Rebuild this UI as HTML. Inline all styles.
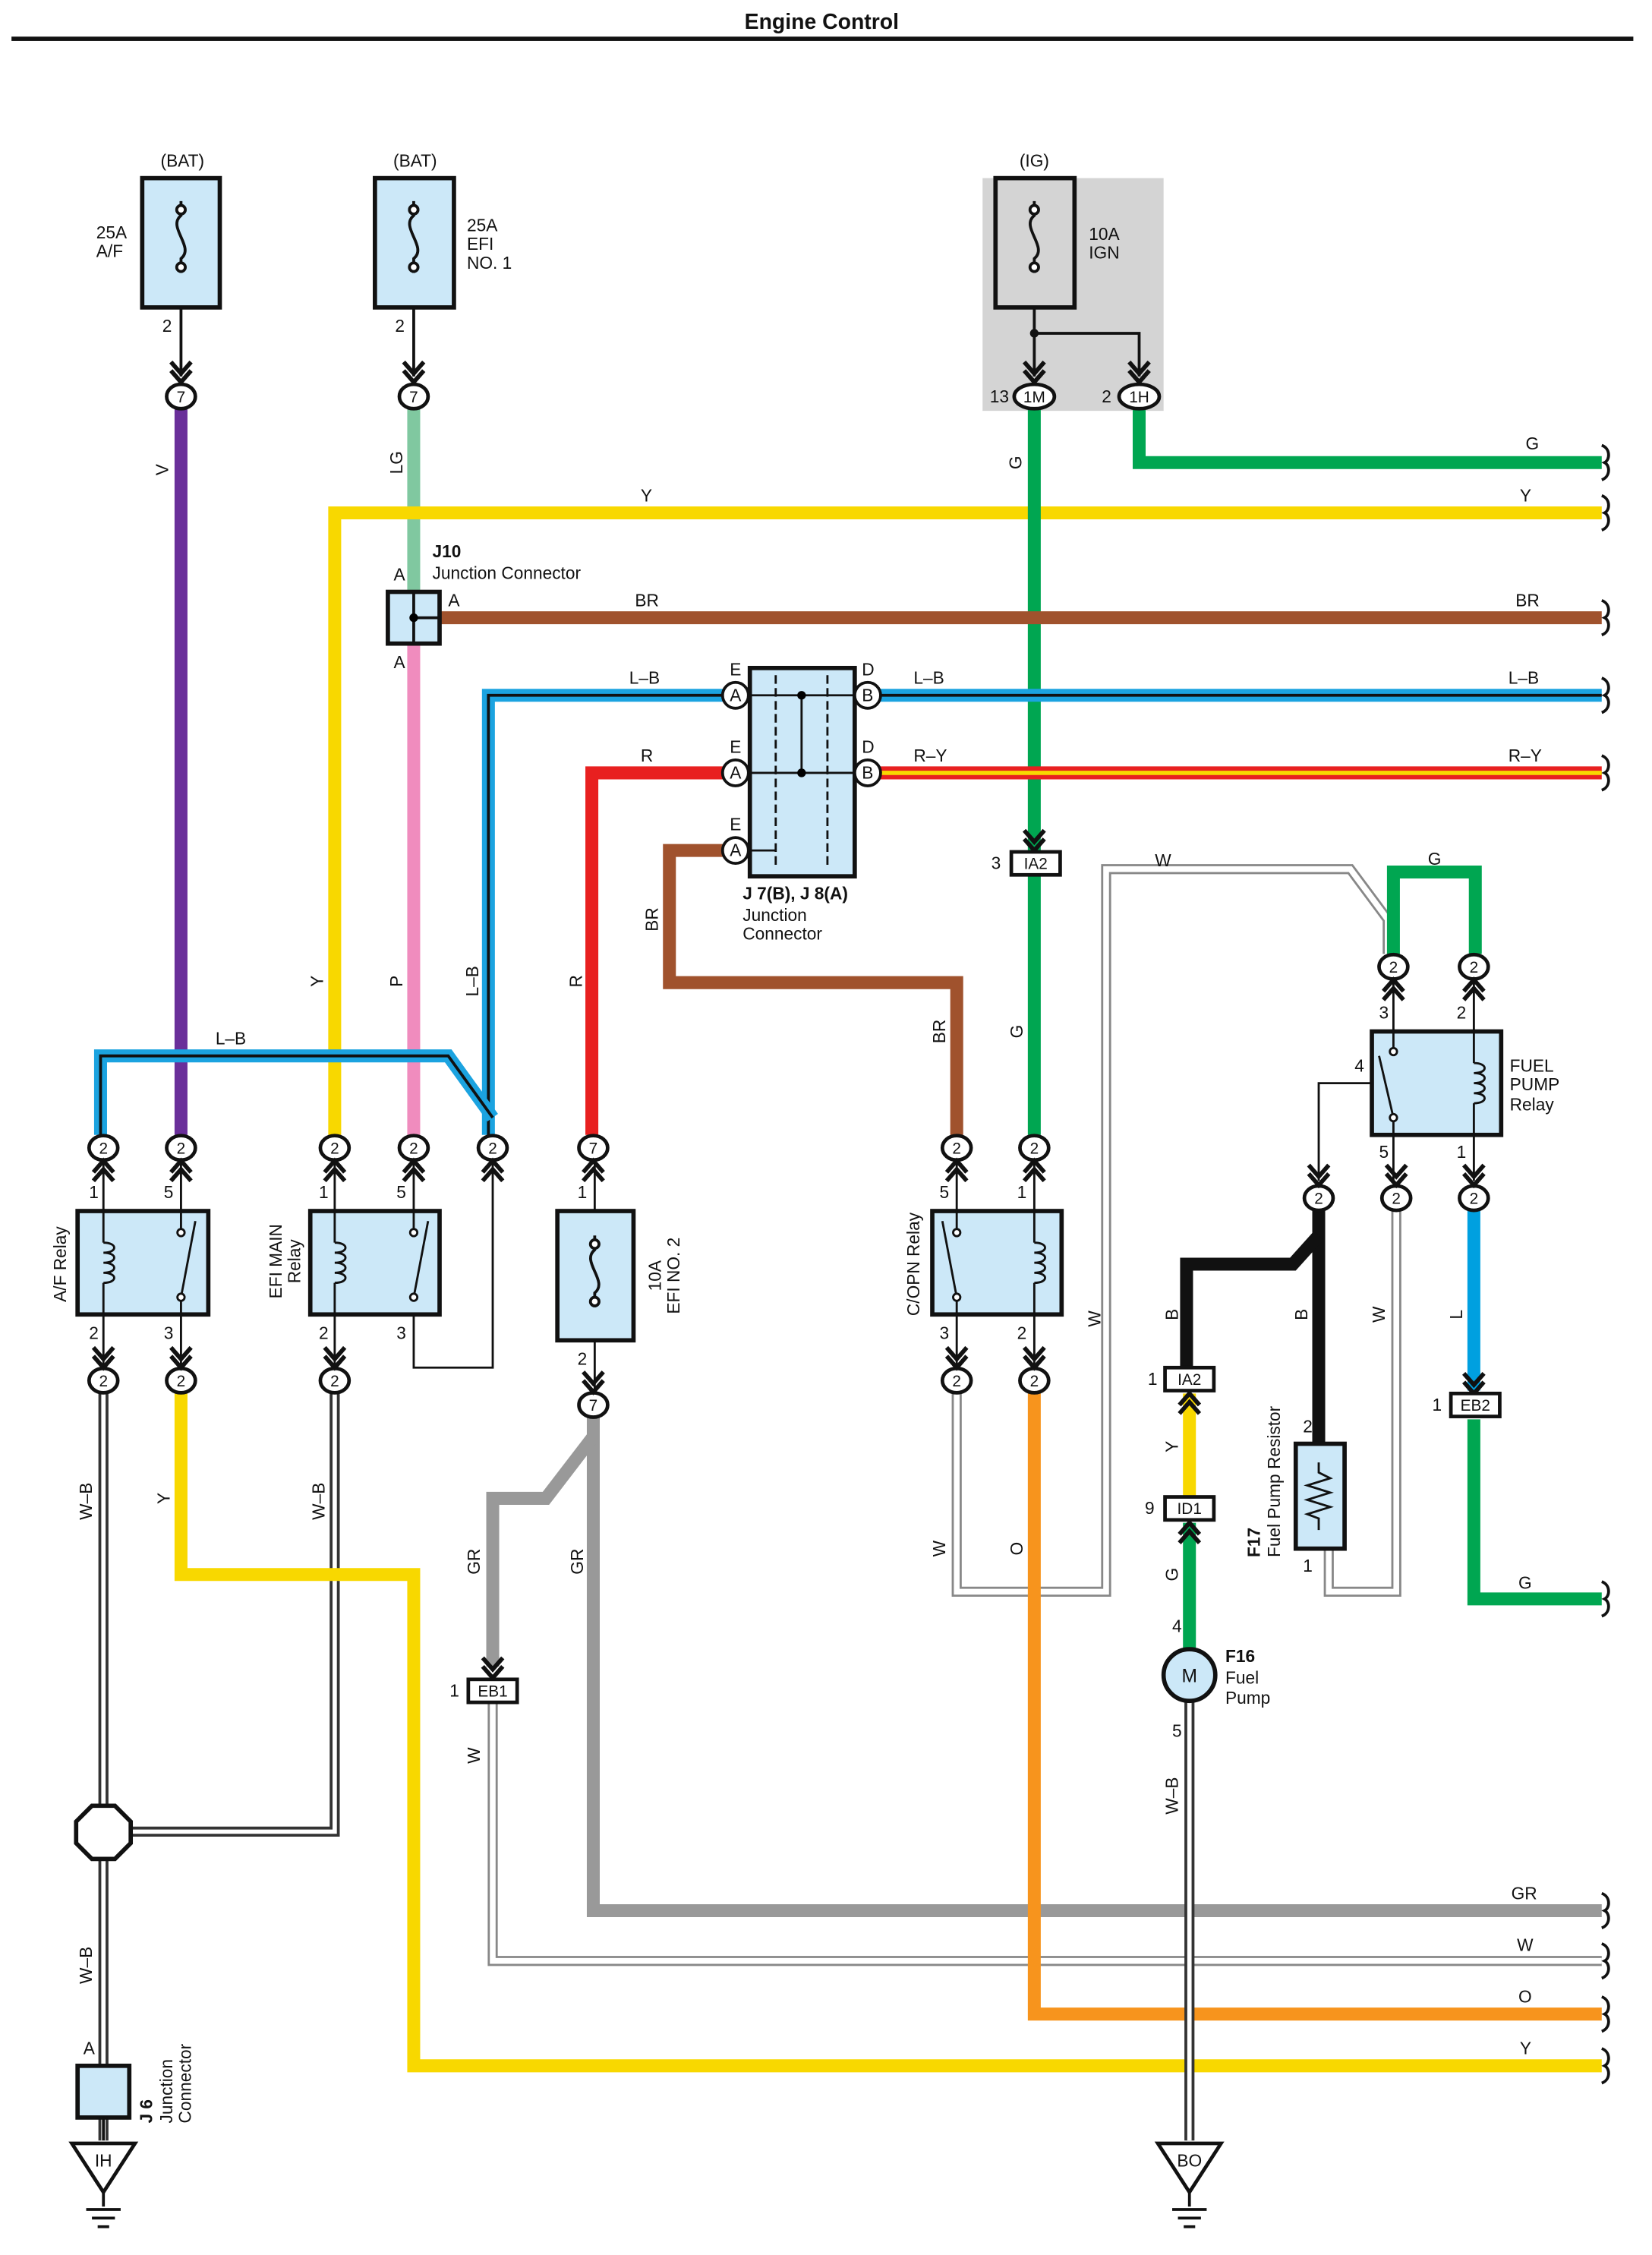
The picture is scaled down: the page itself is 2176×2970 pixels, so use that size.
<!DOCTYPE html>
<html><head><meta charset="utf-8"><style>
html,body{margin:0;padding:0;background:#fff}
svg{display:block}
text{font-family:"Liberation Sans",sans-serif;font-size:12px;fill:#111}
.c text{font-size:11px}
</style></head><body>
<svg width="2176" height="2970" viewBox="0 0 1150 1569.7" preserveAspectRatio="none" xmlns="http://www.w3.org/2000/svg">
<defs>
<g id="conn"><ellipse cx="0" cy="0" rx="10" ry="8.5" fill="#fff" stroke="#111" stroke-width="2.5"/></g>
<g id="chev"><path d="M-7,-12 L0,-4 L7,-12 M-7,-6 L0,2 L7,-6" fill="none" stroke="#111" stroke-width="3"/></g>
<g id="chevU"><path d="M-7,12 L0,4 L7,12 M-7,6 L0,-2 L7,6" fill="none" stroke="#111" stroke-width="3"/></g>
<g id="sq"><path d="M0,-12 C6,-10 6,-2 2,0 C6,2 6,10 0,12" fill="none" stroke="#111" stroke-width="2"/></g>
</defs>
<text x="572" y="20" text-anchor="middle" style="font-size:15px;font-weight:bold">Engine Control</text>
<rect x="8" y="25.5" width="1129" height="3" fill="#111"/>

<!-- IG grey bg -->
<rect x="684" y="124" width="126" height="162" fill="#d4d4d4"/>

<!-- WIRES -->
<g fill="none" stroke-linejoin="miter">
<!-- purple V -->
<path d="M126,285 V790" stroke="#6a2f9a" stroke-width="9"/>
<!-- LG -->
<path d="M288,285 V412" stroke="#80c8a0" stroke-width="9"/>
<path d="M288,448 V790" stroke="#f08cbe" stroke-width="9"/>
<!-- Y top -->
<path d="M1115,357 H233 V790" stroke="#f8d800" stroke-width="9"/>
<!-- G top -->
<path d="M793,285 V322 H1115" stroke="#00a651" stroke-width="9"/>
<path d="M720,285 V593 M720,610 V790" stroke="#00a651" stroke-width="9"/>
<!-- BR -->
<path d="M306,430 H1115" stroke="#a0522d" stroke-width="9"/>
<path d="M504,592 H466 V684 H666 V790" stroke="#a0522d" stroke-width="9"/>
<!-- L-B -->
<path d="M1115,484 H612 M504,484 H340 V790" stroke="#1ba3e0" stroke-width="9"/>
<path d="M1115,484 H612 M504,484 H340 V790" stroke="#111" stroke-width="2"/>
<path d="M343,778 L312,735 H70 V790" stroke="#1ba3e0" stroke-width="9"/>
<path d="M343,778 L312,735 H70 V790" stroke="#111" stroke-width="2"/>
<!-- R-Y -->
<path d="M612,538 H1115" stroke="#e82020" stroke-width="9"/>
<path d="M612,538 H1115" stroke="#f8d800" stroke-width="3"/>
<!-- R -->
<path d="M504,538 H412 V790" stroke="#e82020" stroke-width="9"/>
<!-- W big loop -->
<path d="M666,970 V1108 H770 V605 H940 L966,640 V664" stroke="#888" stroke-width="7"/>
<path d="M666,970 V1108 H770 V605 H940 L966,640 V664" stroke="#fff" stroke-width="4"/>
<!-- G relay top -->
<path d="M970,664 V607 H1027 V664" stroke="#00a651" stroke-width="9"/>
<!-- W-B left -->
<path d="M72,970 V1490 M233,970 V1275 H80" stroke="#333" stroke-width="7"/>
<path d="M72,970 V1490 M233,970 V1275 H80" stroke="#fff" stroke-width="3"/>
<!-- Y lower -->
<path d="M126,970 V1096 H288 V1438 H1115" stroke="#f8d800" stroke-width="9"/>
<!-- GR -->
<path d="M413,985 V1330 H1115" stroke="#999" stroke-width="9"/>
<path d="M413,1000 L380,1043 H343 V1160" stroke="#999" stroke-width="9"/>
<!-- W lower -->
<path d="M343,1186 V1365 H1115" stroke="#888" stroke-width="7"/>
<path d="M343,1186 V1365 H1115" stroke="#fff" stroke-width="4"/>
<!-- O -->
<path d="M720,970 V1402 H1115" stroke="#f7941d" stroke-width="9"/>
<!-- B black -->
<path d="M918,843 V1005" stroke="#111" stroke-width="9"/>
<path d="M918,860 L900,880 H826 V952" stroke="#111" stroke-width="9"/>
<!-- Y ID -->
<path d="M828,970 V1042" stroke="#f8d800" stroke-width="9"/>
<path d="M828,1060 V1148" stroke="#00a651" stroke-width="9"/>
<path d="M828,1184 V1490" stroke="#333" stroke-width="7"/>
<path d="M828,1184 V1490" stroke="#fff" stroke-width="3"/>
<!-- W resistor -->
<path d="M972,843 V1108 H925 V1078" stroke="#888" stroke-width="7"/>
<path d="M972,843 V1108 H925 V1078" stroke="#fff" stroke-width="4"/>
<!-- L -->
<path d="M1026,843 V968" stroke="#00a0e0" stroke-width="9"/>
<path d="M1026,988 V1113 H1115" stroke="#00a651" stroke-width="9"/>
<!-- thin black -->
<path d="M126,214 V262 M288,214 V262 M720,214 V262 M720,232 H793 V262" stroke="#111" stroke-width="2"/>
<path d="M288,905 V952 H343 V808" stroke="#111" stroke-width="1.5"/>
<path d="M955,754 H918 V822" stroke="#111" stroke-width="1.5"/>
</g>
<circle cx="720" cy="232" r="3" fill="#111"/>

<!-- squiggles -->
<use href="#sq" x="1115" y="322"/><use href="#sq" x="1115" y="357"/><use href="#sq" x="1115" y="430"/>
<use href="#sq" x="1115" y="484"/><use href="#sq" x="1115" y="538"/><use href="#sq" x="1115" y="1113"/>
<use href="#sq" x="1115" y="1330"/><use href="#sq" x="1115" y="1365"/><use href="#sq" x="1115" y="1402"/><use href="#sq" x="1115" y="1438"/>

<!-- fuses top -->
<g stroke="#111" stroke-width="3">
<rect x="99" y="124" width="54" height="90" fill="#cce8f8"/>
<rect x="261" y="124" width="55" height="90" fill="#cce8f8"/>
<rect x="693" y="124" width="55" height="90" fill="#d4d4d4"/>
<rect x="388" y="843" width="53" height="90" fill="#cce8f8"/>
</g>
<g fill="none" stroke="#111" stroke-width="2">
<path d="M126,140 V150 C116,158 136,172 126,180 V190"/><circle cx="126" cy="146" r="3" fill="#fff"/><circle cx="126" cy="186" r="3" fill="#fff"/>
<path d="M288,140 V150 C278,158 298,172 288,180 V190"/><circle cx="288" cy="146" r="3" fill="#fff"/><circle cx="288" cy="186" r="3" fill="#fff"/>
<path d="M720,140 V150 C710,158 730,172 720,180 V190"/><circle cx="720" cy="146" r="3" fill="#fff"/><circle cx="720" cy="186" r="3" fill="#fff"/>
<path d="M414,860 V870 C404,878 424,892 414,900 V910"/><circle cx="414" cy="866" r="3" fill="#fff"/><circle cx="414" cy="906" r="3" fill="#fff"/>
</g>
<text x="127" y="116" text-anchor="middle">(BAT)</text>
<text x="289" y="116" text-anchor="middle">(BAT)</text>
<text x="720" y="116" text-anchor="middle">(IG)</text>
<text x="67" y="166">25A</text><text x="67" y="179">A/F</text>
<text x="325" y="161">25A</text><text x="325" y="174">EFI</text><text x="325" y="187">NO. 1</text>
<text x="758" y="167">10A</text><text x="758" y="180">IGN</text>
<text x="113" y="231">2</text><text x="275" y="231">2</text>
<text x="689" y="280">13</text><text x="767" y="280">2</text>

<!-- J10 -->
<rect x="270" y="412" width="36" height="36" fill="#cce8f8" stroke="#111" stroke-width="3"/>
<path d="M288,412 V448 M288,430 H306" stroke="#111" stroke-width="2"/><circle cx="288" cy="430" r="3"/>
<text x="301" y="388" style="font-weight:bold">J10</text><text x="301" y="403">Junction Connector</text>
<text x="274" y="404">A</text><text x="312" y="422">A</text><text x="274" y="465">A</text>

<!-- J7/J8 -->
<rect x="522" y="465" width="73" height="145" fill="#cce8f8" stroke="#111" stroke-width="3"/>
<g stroke="#111" stroke-width="1.5" fill="none" stroke-dasharray="6,3">
<path d="M540,470 V605 M576,470 V605"/></g>
<path d="M512,484 H604 M512,538 H604 M512,592 H540 M558,484 V538" stroke="#111" stroke-width="1.5"/>
<circle cx="558" cy="484" r="3"/><circle cx="558" cy="538" r="3"/>
<g stroke="#111" stroke-width="2" fill="#fff">
<circle cx="512" cy="484" r="9"/><circle cx="512" cy="538" r="9"/><circle cx="512" cy="592" r="9"/>
<circle cx="604" cy="484" r="9"/><circle cx="604" cy="538" r="9"/>
</g>
<g text-anchor="middle" style="font-size:11px">
<text x="512" y="488">A</text><text x="512" y="542">A</text><text x="512" y="596">A</text>
<text x="604" y="488">B</text><text x="604" y="542">B</text>
</g>
<text x="508" y="470">E</text><text x="508" y="524">E</text><text x="508" y="578">E</text>
<text x="600" y="470">D</text><text x="600" y="524">D</text>
<text x="517" y="626" style="font-weight:bold">J 7(B), J 8(A)</text>
<text x="517" y="641">Junction</text><text x="517" y="654">Connector</text>

<!-- wire labels -->
<text x="117" y="327" transform="rotate(-90 117 327)" text-anchor="middle">V</text>
<text x="280" y="322" transform="rotate(-90 280 322)" text-anchor="middle">LG</text>
<text x="711" y="322" transform="rotate(-90 711 322)" text-anchor="middle">G</text>
<text x="1062" y="313">G</text>
<text x="446" y="349">Y</text><text x="1058" y="349">Y</text>
<text x="442" y="422">BR</text><text x="1055" y="422">BR</text>
<text x="438" y="476">L–B</text><text x="636" y="476">L–B</text><text x="1050" y="476">L–B</text>
<text x="446" y="530">R</text><text x="636" y="530">R–Y</text><text x="1050" y="530">R–Y</text>
<text x="804" y="603">W</text><text x="994" y="602">G</text>
<text x="150" y="727">L–B</text>
<text x="458" y="640" transform="rotate(-90 458 640)" text-anchor="middle">BR</text>
<text x="225" y="683" transform="rotate(-90 225 683)" text-anchor="middle">Y</text>
<text x="280" y="683" transform="rotate(-90 280 683)" text-anchor="middle">P</text>
<text x="333" y="683" transform="rotate(-90 333 683)" text-anchor="middle">L–B</text>
<text x="405" y="683" transform="rotate(-90 405 683)" text-anchor="middle">R</text>
<text x="658" y="718" transform="rotate(-90 658 718)" text-anchor="middle">BR</text>
<text x="712" y="718" transform="rotate(-90 712 718)" text-anchor="middle">G</text>
<text x="64" y="1045" transform="rotate(-90 64 1045)" text-anchor="middle">W–B</text>
<text x="118" y="1043" transform="rotate(-90 118 1043)" text-anchor="middle">Y</text>
<text x="226" y="1045" transform="rotate(-90 226 1045)" text-anchor="middle">W–B</text>
<text x="334" y="1087" transform="rotate(-90 334 1087)" text-anchor="middle">GR</text>
<text x="406" y="1087" transform="rotate(-90 406 1087)" text-anchor="middle">GR</text>
<text x="334" y="1222" transform="rotate(-90 334 1222)" text-anchor="middle">W</text>
<text x="64" y="1368" transform="rotate(-90 64 1368)" text-anchor="middle">W–B</text>
<text x="658" y="1078" transform="rotate(-90 658 1078)" text-anchor="middle">W</text>
<text x="712" y="1078" transform="rotate(-90 712 1078)" text-anchor="middle">O</text>
<text x="766" y="918" transform="rotate(-90 766 918)" text-anchor="middle">W</text>
<text x="820" y="915" transform="rotate(-90 820 915)" text-anchor="middle">B</text>
<text x="910" y="915" transform="rotate(-90 910 915)" text-anchor="middle">B</text>
<text x="964" y="915" transform="rotate(-90 964 915)" text-anchor="middle">W</text>
<text x="1018" y="915" transform="rotate(-90 1018 915)" text-anchor="middle">L</text>
<text x="820" y="1007" transform="rotate(-90 820 1007)" text-anchor="middle">Y</text>
<text x="820" y="1096" transform="rotate(-90 820 1096)" text-anchor="middle">G</text>
<text x="820" y="1250" transform="rotate(-90 820 1250)" text-anchor="middle">W–B</text>
<text x="1057" y="1106">G</text>
<text x="1052" y="1322">GR</text><text x="1056" y="1358">W</text><text x="1057" y="1394">O</text><text x="1058" y="1430">Y</text>

<!-- relays -->
<g stroke="#111" stroke-width="3" fill="#cce8f8">
<rect x="54" y="843" width="91" height="72"/>
<rect x="216" y="843" width="90" height="72"/>
<rect x="649" y="843" width="90" height="72"/>
<rect x="955" y="718" width="90" height="72"/>
</g>
<g fill="none" stroke="#111" stroke-width="1.5">
<!-- A/F -->
<path d="M72,808 V865 M72,893 V952 M126,808 V855 M126,903 V952"/>
<path d="M72,865 c10,0 10,7 0,7 c10,0 10,7 0,7 c10,0 10,7 0,7 c10,0 10,7 0,7"/>
<path d="M126,903 L136,850"/><circle cx="126" cy="858" r="2.5" fill="#fff"/><circle cx="126" cy="903" r="2.5" fill="#fff"/>
<!-- EFI main -->
<path d="M233,808 V865 M233,893 V952 M288,808 V855"/>
<path d="M233,865 c10,0 10,7 0,7 c10,0 10,7 0,7 c10,0 10,7 0,7 c10,0 10,7 0,7"/>
<path d="M288,903 L298,850"/><circle cx="288" cy="858" r="2.5" fill="#fff"/><circle cx="288" cy="903" r="2.5" fill="#fff"/>
<!-- C/OPN -->
<path d="M720,808 V865 M720,893 V952 M666,808 V855 M666,903 V952"/>
<path d="M720,865 c10,0 10,7 0,7 c10,0 10,7 0,7 c10,0 10,7 0,7 c10,0 10,7 0,7"/>
<path d="M666,903 L656,850"/><circle cx="666" cy="858" r="2.5" fill="#fff"/><circle cx="666" cy="903" r="2.5" fill="#fff"/>
<!-- fuel pump relay -->
<path d="M970,682 V730 M970,778 V822 M1026,682 V740 M1026,768 V822"/>
<path d="M1026,740 c10,0 10,7 0,7 c10,0 10,7 0,7 c10,0 10,7 0,7 c10,0 10,7 0,7"/>
<path d="M970,778 L960,735"/><circle cx="970" cy="732" r="2.5" fill="#fff"/><circle cx="970" cy="778" r="2.5" fill="#fff"/>
<path d="M414,808 V843 M414,933 V968"/>
</g>
<text x="62" y="834">1</text><text x="114" y="834">5</text><text x="62" y="932">2</text><text x="114" y="932">3</text>
<text x="222" y="834">1</text><text x="276" y="834">5</text><text x="222" y="932">2</text><text x="276" y="932">3</text>
<text x="402" y="834">1</text><text x="402" y="950">2</text>
<text x="654" y="834">5</text><text x="708" y="834">1</text><text x="654" y="932">3</text><text x="708" y="932">2</text>
<text x="960" y="709">3</text><text x="1014" y="709">2</text><text x="943" y="746">4</text><text x="960" y="806">5</text><text x="1014" y="806">1</text>
<text x="46" y="880" transform="rotate(-90 46 880)" text-anchor="middle">A/F Relay</text>
<text x="196" y="878" transform="rotate(-90 196 878)" text-anchor="middle">EFI MAIN</text>
<text x="209" y="878" transform="rotate(-90 209 878)" text-anchor="middle">Relay</text>
<text x="460" y="888" transform="rotate(-90 460 888)" text-anchor="middle">10A</text>
<text x="473" y="888" transform="rotate(-90 473 888)" text-anchor="middle">EFI NO. 2</text>
<text x="640" y="880" transform="rotate(-90 640 880)" text-anchor="middle">C/OPN Relay</text>
<text x="1051" y="746">FUEL</text><text x="1051" y="759">PUMP</text><text x="1051" y="773">Relay</text>

<!-- connectors ovals -->
<g class="c">
<use href="#conn" x="126" y="276"/><text x="126" y="280" text-anchor="middle">7</text>
<use href="#conn" x="288" y="276"/><text x="288" y="280" text-anchor="middle">7</text>
<ellipse cx="720" cy="276" rx="14" ry="8.5" fill="#fff" stroke="#111" stroke-width="2.5"/><text x="720" y="280" text-anchor="middle">1M</text>
<ellipse cx="793" cy="276" rx="14" ry="8.5" fill="#fff" stroke="#111" stroke-width="2.5"/><text x="793" y="280" text-anchor="middle">1H</text>
<use href="#conn" x="72" y="799"/><text x="72" y="803" text-anchor="middle">2</text>
<use href="#conn" x="126" y="799"/><text x="126" y="803" text-anchor="middle">2</text>
<use href="#conn" x="233" y="799"/><text x="233" y="803" text-anchor="middle">2</text>
<use href="#conn" x="288" y="799"/><text x="288" y="803" text-anchor="middle">2</text>
<use href="#conn" x="343" y="799"/><text x="343" y="803" text-anchor="middle">2</text>
<use href="#conn" x="413" y="799"/><text x="413" y="803" text-anchor="middle">7</text>
<use href="#conn" x="666" y="799"/><text x="666" y="803" text-anchor="middle">2</text>
<use href="#conn" x="720" y="799"/><text x="720" y="803" text-anchor="middle">2</text>
<use href="#conn" x="72" y="961"/><text x="72" y="965" text-anchor="middle">2</text>
<use href="#conn" x="126" y="961"/><text x="126" y="965" text-anchor="middle">2</text>
<use href="#conn" x="233" y="961"/><text x="233" y="965" text-anchor="middle">2</text>
<use href="#conn" x="413" y="978"/><text x="413" y="982" text-anchor="middle">7</text>
<use href="#conn" x="666" y="961"/><text x="666" y="965" text-anchor="middle">2</text>
<use href="#conn" x="720" y="961"/><text x="720" y="965" text-anchor="middle">2</text>
<use href="#conn" x="970" y="673"/><text x="970" y="677" text-anchor="middle">2</text>
<use href="#conn" x="1026" y="673"/><text x="1026" y="677" text-anchor="middle">2</text>
<use href="#conn" x="918" y="834"/><text x="918" y="838" text-anchor="middle">2</text>
<use href="#conn" x="972" y="834"/><text x="972" y="838" text-anchor="middle">2</text>
<use href="#conn" x="1026" y="834"/><text x="1026" y="838" text-anchor="middle">2</text>
</g>
<!-- chevrons -->
<use href="#chev" x="126" y="264"/><use href="#chev" x="288" y="264"/><use href="#chev" x="720" y="264"/><use href="#chev" x="793" y="264"/>
<use href="#chevU" x="72" y="810"/><use href="#chevU" x="126" y="810"/><use href="#chevU" x="233" y="810"/><use href="#chevU" x="288" y="810"/><use href="#chevU" x="343" y="810"/><use href="#chevU" x="413" y="810"/><use href="#chevU" x="666" y="810"/><use href="#chevU" x="720" y="810"/>
<use href="#chev" x="72" y="950"/><use href="#chev" x="126" y="950"/><use href="#chev" x="233" y="950"/><use href="#chev" x="413" y="967"/><use href="#chev" x="666" y="950"/><use href="#chev" x="720" y="950"/>
<use href="#chevU" x="970" y="684"/><use href="#chevU" x="1026" y="684"/>
<use href="#chev" x="918" y="823"/><use href="#chev" x="972" y="823"/><use href="#chev" x="1026" y="823"/>
<use href="#chev" x="720" y="590"/><use href="#chev" x="343" y="1166"/><use href="#chev" x="1026" y="968"/>
<use href="#chevU" x="828" y="972"/><use href="#chevU" x="828" y="1062"/>

<!-- inline connectors -->
<g stroke="#111" stroke-width="2.5" fill="#fff">
<rect x="704" y="593" width="34" height="16"/>
<rect x="326" y="1169" width="34" height="16"/>
<rect x="1010" y="970" width="34" height="16"/>
<rect x="811" y="952" width="34" height="16"/>
<rect x="811" y="1042" width="34" height="16"/>
</g>
<g class="c" text-anchor="middle">
<text x="721" y="605">IA2</text><text x="343" y="1181">EB1</text><text x="1027" y="982">EB2</text>
<text x="828" y="964">IA2</text><text x="828" y="1054">ID1</text>
</g>
<text x="690" y="605">3</text><text x="313" y="1181">1</text><text x="997" y="982">1</text><text x="799" y="964">1</text><text x="797" y="1054">9</text>

<!-- resistor -->
<rect x="902" y="1005" width="34" height="73" fill="#cce8f8" stroke="#111" stroke-width="3"/>
<path d="M918,1018 V1025 l8,4 l-16,5 l16,5 l-16,5 l16,5 l-16,5 l8,3 V1065" fill="none" stroke="#111" stroke-width="1.5"/>
<text x="907" y="997">2</text><text x="907" y="1094">1</text>
<text x="877" y="1084" transform="rotate(-90 877 1084)" style="font-weight:bold">F17</text>
<text x="891" y="1084" transform="rotate(-90 891 1084)">Fuel Pump Resistor</text>

<!-- motor -->
<circle cx="828" cy="1166" r="18" fill="#cce8f8" stroke="#111" stroke-width="3"/>
<text x="828" y="1171" text-anchor="middle" style="font-size:13px">M</text>
<text x="816" y="1136">4</text><text x="816" y="1209">5</text>
<text x="853" y="1157" style="font-weight:bold">F16</text><text x="853" y="1172">Fuel</text><text x="853" y="1186">Pump</text>

<!-- octagon -->
<polygon points="64,1257 80,1257 91,1268 91,1283 80,1294 64,1294 53,1283 53,1268" fill="#fff" stroke="#111" stroke-width="3"/>
<!-- J6 -->
<rect x="54" y="1438" width="36" height="36" fill="#cce8f8" stroke="#111" stroke-width="3"/>
<path d="M72,1474 V1490" stroke="#111" stroke-width="2"/>
<text x="58" y="1430">A</text>
<text x="106" y="1478" transform="rotate(-90 106 1478)" style="font-weight:bold">J 6</text>
<text x="120" y="1478" transform="rotate(-90 120 1478)">Junction</text>
<text x="133" y="1478" transform="rotate(-90 133 1478)">Connector</text>
<!-- grounds -->
<g stroke="#111" stroke-width="2.5" fill="#fff">
<polygon points="50,1492 94,1492 72,1526"/>
<polygon points="806,1492 850,1492 828,1526"/>
</g>
<path d="M72,1526 V1536 M60,1538 H84 M64,1544 H80 M68,1550 H76 M828,1526 V1536 M816,1538 H840 M820,1544 H836 M824,1550 H832" stroke="#111" stroke-width="2"/>
<text x="72" y="1508" text-anchor="middle">IH</text>
<text x="828" y="1508" text-anchor="middle">BO</text>
</svg>
</body></html>
